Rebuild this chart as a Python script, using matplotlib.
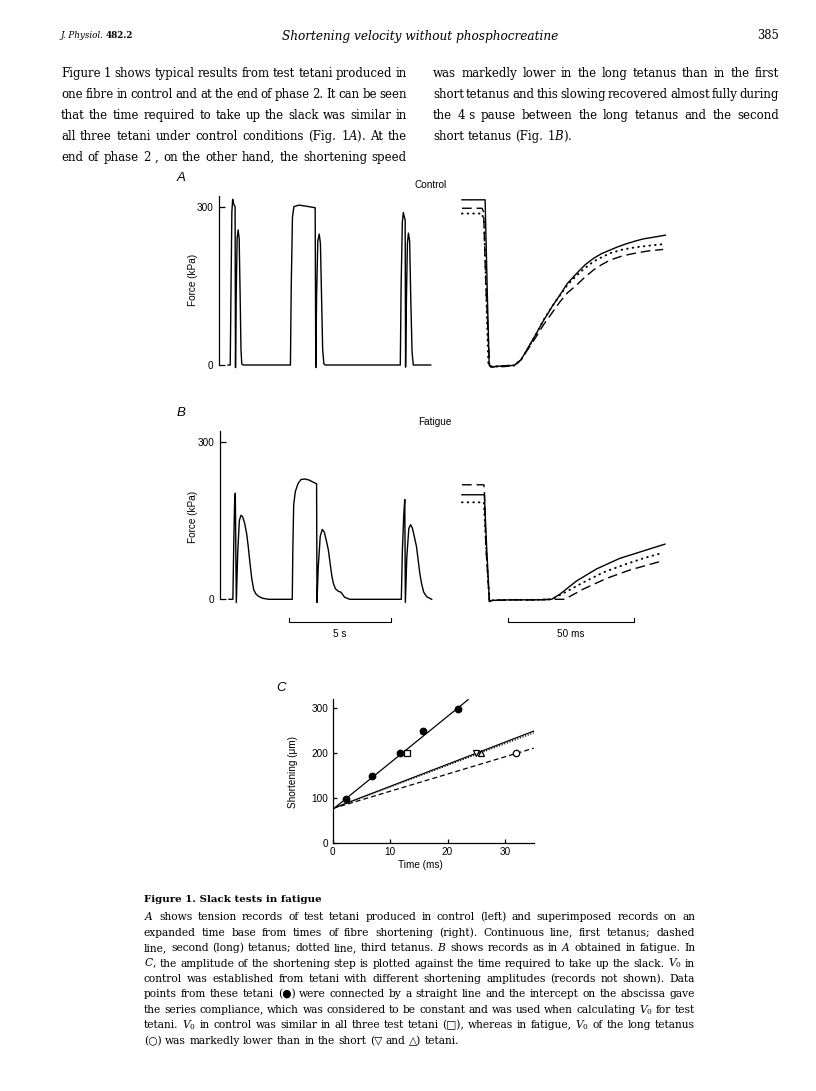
import matplotlib
matplotlib.use("Agg")
import matplotlib.pyplot as plt

W, H = 816, 1091

# ============================================================
# Data
# ============================================================

# A (control), left: force (kPa) against time (s), three test tetani
ctrl_time = [0.0, 0.11, 0.15, 0.19, 0.23, 0.28, 0.35, 0.37, 0.40, 0.45, 0.50, 0.55, 0.60, 0.64, 0.68, 0.75,
             3.08, 3.12, 3.18, 3.25, 3.5, 4.0, 4.3, 4.33, 4.37, 4.43, 4.5, 4.56, 4.62, 4.67, 4.73, 4.8,
             8.5, 8.54, 8.6, 8.65, 8.7, 8.74, 8.76, 8.8, 8.85, 8.9, 8.96, 9.02, 9.08, 9.14, 10.0]
ctrl_force = [0, 0, 150, 290, 314, 305, 300, -5, 120, 240, 256, 240, 130, 30, 2, 0,
              0, 150, 280, 300, 303, 300, 298, -5, 130, 235, 248, 230, 120, 30, 2, 0,
              0, 150, 270, 289, 280, 275, -4, 120, 230, 250, 235, 120, 25, 0, 0]

# A (control), right: expanded time base (ms)
ctrl_first_t = [0, 9.2, 10.0, 10.8, 11.5, 14, 17, 21, 23.5, 25.7, 29, 32.4, 36, 39, 42, 45.7, 49,
                52.3, 55.5, 59, 62, 65.6, 69, 72.2, 76, 80.9]
ctrl_first_f = [313, 313, 150, 0, -4, -2, -3, 0, 10, 28, 55, 84, 112, 133, 155, 174, 190,
                202, 211, 218, 224, 230, 235, 239, 242, 246]
ctrl_long_t = [0, 8.0, 8.6, 9.5, 11.0, 12, 15, 21, 23.5, 25.7, 29, 32.4, 36, 39, 42, 45.7, 49,
               52.3, 55.5, 59, 64, 69, 74, 80]
ctrl_long_f = [297, 297, 290, 150, -2, -4, -2, 0, 10, 26, 50, 76, 100, 120, 137, 152, 167,
               180, 190, 199, 207, 212, 216, 219]
ctrl_third_t = [0, 8.0, 8.8, 10.5, 12, 15, 21, 23.5, 25.7, 29, 32.4, 36, 39, 42, 45.7, 49,
                52.3, 55.5, 59, 64, 69, 74, 80]
ctrl_third_f = [287, 287, 270, 0, -3, -3, -1, 10, 27, 54, 85, 112, 132, 152, 170, 184,
                196, 204, 212, 219, 223, 226, 229]

# B (fatigue), left
fat_time = [0.05, 0.24, 0.29, 0.33, 0.36, 0.41, 0.48, 0.56, 0.64, 0.72, 0.82, 0.92, 1.0, 1.08,
            1.17, 1.27, 1.38, 1.5, 1.7, 2.0,
            3.17, 3.20, 3.24, 3.32, 3.45, 3.6, 3.8, 4.0, 4.2, 4.37, 4.39, 4.45, 4.55, 4.65, 4.75,
            4.85, 4.95, 5.05, 5.12, 5.2, 5.3, 5.45, 5.55, 5.62, 5.75, 6.0,
            8.55, 8.6, 8.67, 8.72, 8.75, 8.82, 8.92, 9.01, 9.1, 9.2, 9.3, 9.38, 9.46, 9.55, 9.65,
            9.8, 10.05]
fat_force = [0, 0, 120, 190, 202, -6, 90, 150, 160, 157, 145, 125, 100, 70,
             40, 18, 10, 6, 2, 0,
             0, 100, 180, 205, 220, 228, 229, 227, 223, 220, -6, 60, 120, 133, 128,
             112, 94, 65, 45, 30, 20, 15, 14, 11, 4, 0,
             0, 90, 160, 190, -6, 80, 135, 142, 135, 118, 100, 75, 50, 30, 14,
             5, 0]

# B (fatigue), right
fat_first_t = [0, 8.9, 9.8, 10.9, 12, 20, 30, 35.7, 39, 45.6, 53.6, 62.8, 72.1, 80.7]
fat_first_f = [199, 199, 100, -4.5, -2, -1, -1, 0, 10, 35, 58, 78, 92, 105]
fat_long_t = [0, 8.7, 8.9, 9.5, 10.9, 12, 20, 30, 37, 40.5, 41.6, 48.3, 57.6, 66.9, 80]
fat_long_f = [218, 218, 210, 100, -4, -2, -1, -1, 0, 0, 2, 19.6, 40, 56, 73.5]
fat_third_t = [0, 8.7, 9.6, 10.9, 12, 20, 30, 35.7, 40.3, 48.3, 56.3, 64.2, 72.1, 80]
fat_third_f = [184.6, 184.6, 100, -3, -2, -1, -1, 0, 11.4, 32.3, 51.4, 65.3, 78, 88.7]

# C: shortening (um) against time to take up slack (ms)
ctrl_slack_time = [2.4, 6.8, 11.8, 15.8, 21.8]
ctrl_slack_short = [98, 148, 199, 249, 297]
test_ctrl_time, test_ctrl_short = [13.0], [200]      # open square
fat_first_time, fat_first_short = [24.9], [200]      # down triangle
fat_third_time, fat_third_short = [25.9], [200]      # up triangle
fat_long_time, fat_long_short = [31.9], [200]        # open circle

fit_ctrl_x, fit_ctrl_y = [0, 23.6], [74, 318]
fit_fat_x = [0, 35]
fit_fat_first_y = [76, 248]
fit_fat_third_y = [76, 244]
fit_fat_long_y = [76, 210]

# page text
header_left = "J. Physiol."
header_vol = "482.2"
header_title = "Shortening velocity without phosphocreatine"
header_page = "385"
para_left = [
    "Figure 1 shows typical results from test tetani produced in",
    "one fibre in control and at the end of phase 2. It can be seen",
    "that the time required to take up the slack was similar in",
    "all three tetani under control conditions (Fig. 1$\\mathit{A}$). At the",
    "end of phase 2 , on the other hand, the shortening speed",
]
para_right = [
    "was markedly lower in the long tetanus than in the first",
    "short tetanus and this slowing recovered almost fully during",
    "the 4\u00a0s pause between the long tetanus and the second",
    "short tetanus (Fig. 1$\\mathit{B}$).",
]
caption_title = "Figure 1. Slack tests in fatigue"
caption = [
    "$\\mathit{A}$ shows tension records of test tetani produced in control (left) and superimposed records on an",
    "expanded time base from times of fibre shortening (right). Continuous line, first tetanus; dashed",
    "line, second (long) tetanus; dotted line, third tetanus. $\\mathit{B}$ shows records as in $\\mathit{A}$ obtained in fatigue. In",
    "$\\mathit{C}$, the amplitude of the shortening step is plotted against the time required to take up the slack. $V_0$ in",
    "control was established from tetani with different shortening amplitudes (records not shown). Data",
    "points from these tetani (\u25cf) were connected by a straight line and the intercept on the abscissa gave",
    "the series compliance, which was considered to be constant and was used when calculating $V_0$ for test",
    "tetani. $V_0$ in control was similar in all three test tetani (\u25a1), whereas in fatigue, $V_0$ of the long tetanus",
    "(\u25cb) was markedly lower than in the short (\u25bd and \u25b3) tetani.",
]

# ============================================================
# Helpers (page laid out in pixels)
# ============================================================

plt.rcParams['font.family'] = 'Liberation Sans'
plt.rcParams['mathtext.fontset'] = 'dejavuserif'
SERIF = ['DejaVu Serif', 'DejaVu Sans']
SANS = 7.2

fig = plt.figure(figsize=(W / 100, H / 100), dpi=100)
renderer = fig.canvas.get_renderer()


def px_text(x, y, s, **kw):
    return fig.text(x / W, 1 - y / H, s, **kw)


def add_ax(x0, y0, x1, y1):
    return fig.add_axes([x0 / W, 1 - y1 / H, (x1 - x0) / W, (y1 - y0) / H])


def natural_width(s, size, **kw):
    t = fig.text(0, 0, s, fontsize=size, **kw)
    w = t.get_window_extent(renderer).width
    t.remove()
    return w


def fit_size(lines, width, base=10.0, **kw):
    widest = max(natural_width(s, base, **kw) for s in lines)
    return base * width / widest


def median_size(lines, width, base=10.0, **kw):
    sizes = sorted(base * width / natural_width(s, base, **kw) for s in lines)
    return sizes[len(sizes) // 2]


def set_block(lines, x0, x1, y0, dy, size, ragged_last=True, **kw):
    """Justified text block, one word per Text object."""
    space = natural_width('a a', size, **kw) - natural_width('aa', size, **kw)
    for i, line in enumerate(lines):
        words = line.split(' ')
        last = (ragged_last and i == len(lines) - 1) or len(words) == 1
        s = size
        while True:
            objs = [px_text(0, y0 + i * dy, w, fontsize=s, va='baseline', **kw) for w in words]
            widths = [o.get_window_extent(renderer).width for o in objs]
            gap = space if last else (x1 - x0 - sum(widths)) / (len(words) - 1)
            if last or gap >= 0.45 * space:
                break
            for o in objs:
                o.remove()
            s *= 0.99
        x = x0
        for o, w in zip(objs, widths):
            o.set_x(x / W)
            x += w + gap


def trace_axes(box, xlim, ylim, spine_top=None):
    ax = add_ax(*box)
    ax.set_xlim(*xlim)
    ax.set_ylim(*ylim)
    for s in ['top', 'right', 'bottom']:
        ax.spines[s].set_visible(False)
    ax.set_xticks([])
    if spine_top is None:
        ax.spines['left'].set_visible(False)
        ax.set_yticks([])
    else:
        ax.spines['left'].set_bounds(0, spine_top)
        ax.spines['left'].set_linewidth(0.9)
        ax.set_yticks([0, 300])
        ax.tick_params(axis='y', direction='in', length=4, width=0.9, pad=4, labelsize=SANS)
    ax.patch.set_visible(False)
    return ax


def scale_bar(ax, x0, length, y, tick, label, label_y):
    ax.plot([x0, x0, x0 + length, x0 + length], [y + tick, y, y, y + tick],
            color='k', lw=0.8, clip_on=False)
    ax.text(x0 + length / 2, label_y, label, ha='center', va='center', fontsize=SANS)


DASH = (0, (7, 3.5))
DOT = (0, (0.3, 2.6))

# ============================================================
# Page header and paragraph
# ============================================================

hsize = fit_size([header_left + ' ' + header_vol], 71, style='italic', family=SERIF)
t = px_text(60, 38, header_left, fontsize=hsize, style='italic', family=SERIF, va='baseline')
px_text(60 + t.get_window_extent(renderer).width + 3, 38, header_vol, fontsize=hsize,
        weight='bold', family=SERIF, va='baseline')
tsize = fit_size([header_title], 278, style='italic', family=SERIF)
px_text(420, 40, header_title, fontsize=tsize, style='italic', family=SERIF, ha='center', va='baseline')
px_text(779, 39, header_page, fontsize=tsize * 0.95, family=SERIF, ha='right', va='baseline')

psize = 0.985 * median_size(para_left + para_right[:-1], 346, family=SERIF)
set_block(para_left, 61, 407, 77, 21, psize, ragged_last=False, family=SERIF)
set_block(para_right, 433, 779, 77, 21, psize, ragged_last=True, family=SERIF)

# ============================================================
# A: control
# ============================================================

px_text(181, 178, 'A', fontsize=9.5, style='italic', va='center', ha='center')
px_text(431, 185, 'Control', fontsize=SANS, ha='center', va='center')
px_text(193, 280, 'Force (kPa)', fontsize=SANS, rotation=90, ha='center', va='center')

axA = trace_axes((219, 190, 445, 375), (-0.444, 10.705), (-18.95, 331.6), spine_top=320)
axA.plot(ctrl_time, ctrl_force, color='k', lw=1.0)

axA2 = trace_axes((455, 190, 672, 375), (-2.78, 83.53), (-18.95, 331.6))
axA2.plot(ctrl_first_t, ctrl_first_f, color='k', lw=1.0)
axA2.plot(ctrl_long_t, ctrl_long_f, color='k', lw=1.0, linestyle=DASH)
axA2.plot(ctrl_third_t, ctrl_third_f, color='k', lw=1.4, linestyle=DOT, dash_capstyle='round')

# ============================================================
# B: fatigue
# ============================================================

px_text(181, 413, 'B', fontsize=9.5, style='italic', va='center', ha='center')
px_text(435, 422, 'Fatigue', fontsize=SANS, ha='center', va='center')
px_text(193, 517, 'Force (kPa)', fontsize=SANS, rotation=90, ha='center', va='center')

axB = trace_axes((220, 425, 445, 645), (-0.395, 10.705), (-87.0, 331.8), spine_top=321)
axB.plot(fat_time, fat_force, color='k', lw=1.0)
scale_bar(axB, 3.02, 5, -43.8, 8, '5 s', -66)

axB2 = trace_axes((455, 425, 672, 645), (-2.78, 83.53), (-87.0, 331.8))
axB2.plot(fat_first_t, fat_first_f, color='k', lw=1.0)
axB2.plot(fat_long_t, fat_long_f, color='k', lw=1.0, linestyle=DASH)
axB2.plot(fat_third_t, fat_third_f, color='k', lw=1.4, linestyle=DOT, dash_capstyle='round')
scale_bar(axB2, 18.4, 50, -43.8, 8, '50 ms', -66)

# ============================================================
# C: shortening vs time to take up slack
# ============================================================

px_text(281, 688, 'C', fontsize=9.5, style='italic', va='center', ha='center')
axC = add_ax(332.7, 698.7, 533.7, 842.7)
axC.plot(fit_ctrl_x, fit_ctrl_y, color='k', lw=0.9)
axC.plot(fit_fat_x, fit_fat_first_y, color='k', lw=0.9)
axC.plot(fit_fat_x, fit_fat_third_y, color='k', lw=1.0, linestyle=(0, (0.8, 1.2)))
axC.plot(fit_fat_x, fit_fat_long_y, color='k', lw=0.9, linestyle=(0, (4, 2.4)))
axC.plot(ctrl_slack_time, ctrl_slack_short, 'o', color='k', ms=4.6)
axC.plot(test_ctrl_time, test_ctrl_short, 's', mfc='white', mec='k', mew=0.9, ms=4.6)
axC.plot(fat_first_time, fat_first_short, 'v', mfc='white', mec='k', mew=0.9, ms=4.8)
axC.plot(fat_third_time, fat_third_short, '^', mfc='white', mec='k', mew=0.9, ms=4.8)
axC.plot(fat_long_time, fat_long_short, 'o', mfc='white', mec='k', mew=0.9, ms=4.6)
axC.set_xlim(0, 35)
axC.set_ylim(0, 320)
axC.set_xticks([0, 10, 20, 30])
axC.set_yticks([0, 100, 200, 300])
axC.spines['top'].set_visible(False)
axC.spines['right'].set_visible(False)
for s in ['left', 'bottom']:
    axC.spines[s].set_linewidth(0.9)
axC.tick_params(direction='in', length=3, width=0.9, pad=3, labelsize=SANS)
axC.patch.set_visible(False)
px_text(293, 772, 'Shortening (\u03bcm)', fontsize=SANS, rotation=90, ha='center', va='center')
px_text(420, 865, 'Time (ms)', fontsize=SANS, ha='center', va='center')

# ============================================================
# Caption
# ============================================================

ctsize = fit_size([caption_title], 179, weight='bold', family=SERIF)
px_text(144, 902.5, caption_title, fontsize=ctsize, weight='bold', family=SERIF, va='baseline')
csize = 0.985 * median_size(caption[:-1], 551, family=SERIF)
set_block(caption, 144, 695, 920.2, 15.45, csize, ragged_last=True, family=SERIF)

fig.savefig('out.png', dpi=100)
